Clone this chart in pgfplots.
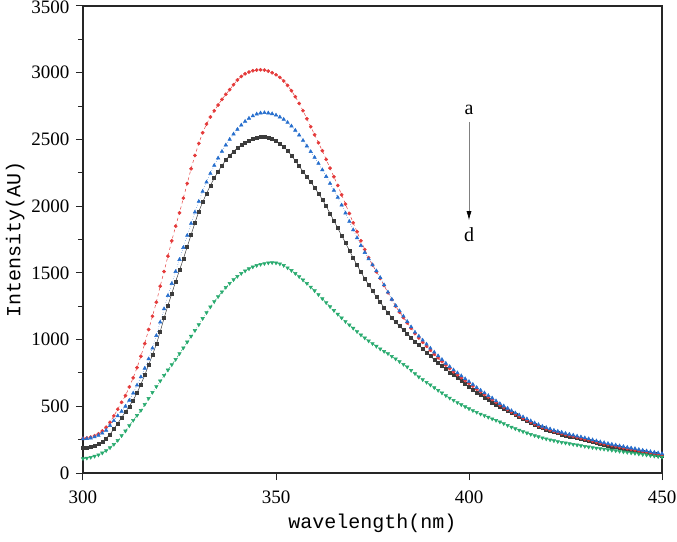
\documentclass[border=0pt]{standalone}
\usepackage{fontspec}
\setmainfont{Liberation Serif}
\newfontfamily\labelfont{Liberation Mono}
\usepackage{pgfplots}
\usepackage{pgfplotstable}
\pgfplotsset{compat=1.18}
\usetikzlibrary{arrows.meta}
\definecolor{cblack}{RGB}{60,60,60}
\definecolor{cred}{RGB}{228,58,58}
\definecolor{cblue}{RGB}{38,110,205}
\definecolor{cgreen}{RGB}{40,170,110}
\pgfplotstableread{
x black red blue green
300 190 260 255 108
301 192 263 257 112
302 197 269 262 118
303 205 279 270 126
304 218 294 282 136
305 235 315 298 150
306 258 343 320 168
307 290 380 355 190
308 330 428 392 215
309 372 478 428 245
310 415 530 462 280
311 458 580 500 315
312 500 645 545 355
313 545 713 598 395
314 600 790 658 432
315 665 875 720 470
316 733 970 785 515
317 810 1075 855 560
318 885 1175 935 605
319 965 1280 1030 648
320 1060 1400 1130 690
321 1160 1510 1230 732
322 1255 1625 1330 772
323 1345 1740 1420 812
324 1435 1850 1510 852
325 1520 1950 1600 895
326 1605 2060 1690 938
327 1695 2170 1780 982
328 1785 2280 1870 1025
329 1875 2380 1955 1068
330 1960 2470 2035 1112
331 2030 2550 2110 1158
332 2095 2615 2180 1202
333 2155 2668 2245 1245
334 2210 2715 2305 1285
335 2260 2758 2360 1322
336 2305 2800 2410 1358
337 2345 2838 2458 1392
338 2380 2873 2500 1422
339 2410 2910 2540 1449
340 2435 2945 2575 1474
341 2458 2972 2607 1496
342 2477 2992 2635 1515
343 2492 3005 2658 1531
344 2505 3015 2676 1545
345 2514 3020 2690 1556
346 2519 3022 2698 1564
347 2520 3020 2700 1570
348 2515 3012 2698 1575
349 2505 3000 2692 1577
350 2490 2985 2682 1575
351 2470 2965 2668 1568
352 2445 2938 2650 1556
353 2415 2905 2627 1538
354 2380 2865 2600 1518
355 2340 2820 2568 1496
356 2300 2770 2532 1472
357 2260 2715 2492 1447
358 2220 2655 2450 1421
359 2180 2595 2408 1394
360 2140 2535 2365 1366
361 2095 2475 2320 1337
362 2050 2415 2272 1307
363 2000 2350 2222 1277
364 1945 2285 2170 1247
365 1890 2220 2118 1218
366 1835 2155 2065 1190
367 1780 2085 2008 1162
368 1725 2015 1948 1135
369 1668 1945 1885 1110
370 1612 1875 1822 1085
371 1558 1808 1762 1060
372 1505 1740 1705 1035
373 1457 1675 1652 1012
374 1410 1614 1605 990
375 1365 1560 1560 970
376 1320 1508 1515 950
377 1280 1458 1465 930
378 1240 1405 1410 912
379 1200 1352 1355 895
380 1165 1300 1302 875
381 1130 1250 1255 855
382 1102 1205 1215 835
383 1073 1165 1175 815
384 1044 1125 1135 795
385 1015 1085 1095 770
386 985 1045 1055 745
387 958 1012 1025 720
388 930 980 995 700
389 903 950 965 680
390 876 920 935 660
391 850 890 905 640
392 826 863 878 620
393 802 835 850 600
394 778 808 822 580
395 755 783 797 562
396 733 758 772 545
397 712 736 750 528
398 690 714 728 512
399 669 692 706 497
400 648 672 685 482
401 627 651 664 468
402 605 628 640 455
403 585 608 620 442
404 566 588 600 430
405 548 569 580 418
406 530 551 562 406
407 512 530 540 395
408 496 510 520 383
409 482 492 502 370
410 467 475 485 357
411 451 457 467 344
412 436 441 450 332
413 421 426 435 321
414 406 411 420 310
415 391 396 405 300
416 376 381 390 290
417 362 366 375 280
418 349 353 362 272
419 337 341 350 264
420 326 331 340 256
421 316 321 330 249
422 306 311 320 242
423 298 303 312 236
424 290 296 305 230
425 282 288 297 225
426 275 281 290 220
427 268 274 283 215
428 261 267 276 210
429 255 261 270 205
430 248 254 263 200
431 241 247 256 195
432 233 239 248 191
433 225 231 240 187
434 218 224 233 183
435 212 218 227 179
436 206 212 221 175
437 200 206 215 171
438 194 200 209 167
439 188 194 203 163
440 183 189 198 159
441 177 183 192 155
442 172 178 187 151
443 167 173 182 147
444 161 167 176 143
445 156 161 170 139
446 151 156 165 135
447 146 151 160 131
448 141 146 155 127
449 136 141 150 123
450 131 136 145 119
}\spectra
\begin{document}
\begin{tikzpicture}
\path[use as bounding box] (-83pt,-68pt) rectangle (594pt,473pt);
\begin{axis}[
  at={(0,0)}, anchor=south west,
  scale only axis, width=579pt, height=467pt,
  xmin=300, xmax=450, ymin=0, ymax=3500,
  xtick={300,350,400,450},
  ytick={0,500,1000,1500,2000,2500,3000,3500},
  yticklabels={0,500,1000,1500,2000,2500,3000,\raisebox{-8pt}[0pt][0pt]{3500}},
  minor y tick num=1,
  tick pos=left, tick align=outside,
  major tick length=7pt, minor tick length=5pt,
  axis line style={line width=1.3pt, black!85},
  every tick/.style={line width=1pt, black!85},
  /pgf/number format/assume math mode=true,
  /pgf/number format/1000 sep={},
  tick label style={font=\fontsize{19}{22}\selectfont},
  xticklabel style={yshift=-7pt},
  yticklabel style={xshift=-3pt},
  label style={font=\labelfont\fontsize{20}{24}\selectfont},
  xlabel style={yshift=-4pt},
  xlabel={wavelength(nm)},
  ylabel={Intensity(AU)},
  clip=false,
]
\addplot[cblack, line width=0.5pt, mark=square*, mark size=1.5pt, mark options={solid}] table[x=x, y=black] {\spectra};
\addplot[cred, line width=0.5pt, dashed, mark=*, mark size=1.6pt, mark options={solid}] table[x=x, y=red] {\spectra};
\addplot[cblue, line width=0.5pt, dotted, mark=triangle*, mark size=2pt, mark options={solid}] table[x=x, y=blue] {\spectra};
\addplot[cgreen, line width=0.5pt, dashdotted, mark=triangle*, mark size=2pt, mark options={solid, rotate=180}] table[x=x, y=green] {\spectra};
\draw[gray, line width=0.7pt, -{Latex[black, length=9pt, width=5pt]}] (axis cs:400,2631) -- (axis cs:400,1895);
\node[font=\fontsize{20}{24}\selectfont] at (axis cs:400,2720) {a};
\node[font=\fontsize{20}{24}\selectfont] at (axis cs:400,1790) {d};
\end{axis}
\end{tikzpicture}
\end{document}
